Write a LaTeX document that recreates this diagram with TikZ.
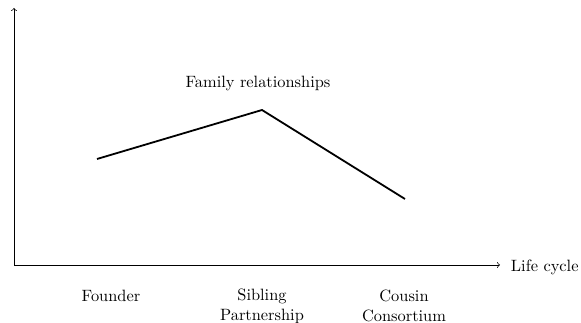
\documentclass[tikz,border=0pt]{standalone}
\begin{document}
\begin{tikzpicture}[x=0.61pt,y=-0.61pt,
  axis/.style={->,line width=0.4pt},
  curve/.style={line width=1.1pt},
  lbl/.style={align=center,inner sep=1pt}]
\useasboundingbox (0,0) rectangle (581,323);
% axes
\coordinate (O) at (14,265);
\coordinate (ytop) at (14,8);
\coordinate (xend) at (500,265);
\draw[axis] (O) -- (ytop);
\draw[axis] (O) -- (xend);
\node[lbl,anchor=west] (xlabel) at (509,267) {Life cycle};
% relationship curve
\coordinate (p1) at (97,159);
\coordinate (p2) at (262,110);
\coordinate (p3) at (405,199);
\draw[curve] (p1) -- (p2) -- (p3);
\node[lbl] (title) at (258,83) {Family relationships};
% stages
\node[lbl] (founder) at (111,296) {Founder};
\node[lbl] (sibling) at (262,306) {Sibling\\Partnership};
\node[lbl] (cousin) at (404,306) {Cousin\\Consortium};
\end{tikzpicture}
\end{document}
